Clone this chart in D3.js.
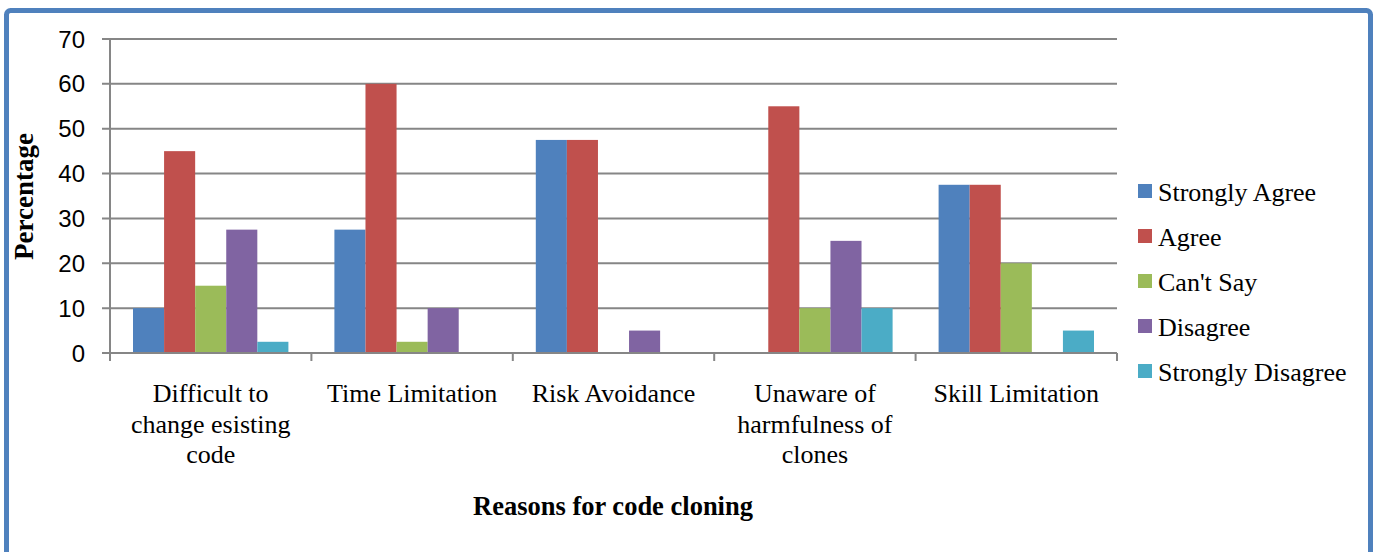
<!DOCTYPE html>
<html>
<head>
<meta charset="utf-8">
<script src="https://cdn.jsdelivr.net/npm/d3@7/dist/d3.min.js"></script>
<style>
  html, body { margin: 0; padding: 0; background: #fff; }
  svg { display: block; }
</style>
</head>
<body>
<svg id="chart" width="1376" height="552"></svg>
<script>
// Survey results: reasons for code cloning
const categories = [
  ["Difficult to", "change esisting", "code"],
  ["Time Limitation"],
  ["Risk Avoidance"],
  ["Unaware of", "harmfulness of", "clones"],
  ["Skill Limitation"]
];
const seriesNames = ["Strongly Agree", "Agree", "Can't Say", "Disagree", "Strongly Disagree"];
const seriesColors = ["#4F81BD", "#C0504D", "#9BBB59", "#8064A2", "#4BACC6"];
const stronglyAgree    = [10, 27.5, 47.5, 0, 37.5];
const agree            = [45, 60, 47.5, 55, 37.5];
const cantSay          = [15, 2.5, 0, 10, 20];
const disagree         = [27.5, 10, 5, 25, 0];
const stronglyDisagree = [2.5, 0, 0, 10, 5];
const yTicks = [0, 10, 20, 30, 40, 50, 60, 70];

const series = [stronglyAgree, agree, cantSay, disagree, stronglyDisagree];

const svg = d3.select("#chart");
const plot = { left: 110, right: 1117, top: 39, bottom: 353 };
const gridColor = "#868686";
const serif = "'Liberation Serif', 'Times New Roman', serif";

// outer frame
svg.append("rect")
  .attr("x", 6.5).attr("y", 10.5)
  .attr("width", 1364).attr("height", 545)
  .attr("rx", 4).attr("ry", 4)
  .attr("fill", "#fff")
  .attr("stroke", "#4F81BD")
  .attr("stroke-width", 5);

const x0 = d3.scaleBand()
  .domain(d3.range(categories.length))
  .range([plot.left, plot.right])
  .paddingInner(0).paddingOuter(0);

const x1 = d3.scaleBand()
  .domain(d3.range(series.length))
  .range([0, x0.bandwidth()])
  .paddingOuter(0.74).paddingInner(0);

const y = d3.scaleLinear().domain([0, 70]).range([plot.bottom, plot.top]);

// horizontal gridlines
svg.append("g").selectAll("line")
  .data(yTicks)
  .join("line")
  .attr("x1", plot.left - 8).attr("x2", plot.right)
  .attr("y1", d => y(d)).attr("y2", d => y(d))
  .attr("stroke", gridColor).attr("stroke-width", 2);

// y axis line
svg.append("line")
  .attr("x1", plot.left).attr("x2", plot.left)
  .attr("y1", plot.top).attr("y2", plot.bottom + 8)
  .attr("stroke", gridColor).attr("stroke-width", 2);

// category tick marks
const boundaries = d3.range(categories.length + 1).map(i => plot.left + i * x0.bandwidth());
svg.append("g").selectAll("line")
  .data(boundaries)
  .join("line")
  .attr("x1", d => d).attr("x2", d => d)
  .attr("y1", plot.bottom).attr("y2", plot.bottom + 8)
  .attr("stroke", gridColor).attr("stroke-width", 2);

// y tick labels
svg.append("g").selectAll("text")
  .data(yTicks)
  .join("text")
  .attr("x", 85).attr("y", d => y(d))
  .attr("dy", "0.36em")
  .attr("text-anchor", "end")
  .attr("font-family", "'Liberation Sans', Arial, sans-serif")
  .attr("font-size", 24)
  .attr("fill", "#000")
  .text(d => d);

// bars
const groups = svg.append("g").selectAll("g")
  .data(categories.map((c, i) => i))
  .join("g")
  .attr("transform", i => `translate(${x0(i)},0)`);

groups.selectAll("rect")
  .data(i => series.map((s, k) => ({ k, v: s[i] })))
  .join("rect")
  .attr("x", d => x1(d.k))
  .attr("width", x1.bandwidth())
  .attr("y", d => y(d.v))
  .attr("height", d => y(0) - y(d.v))
  .attr("fill", d => seriesColors[d.k]);

// baseline drawn over bars
svg.append("line")
  .attr("x1", plot.left).attr("x2", plot.right)
  .attr("y1", y(0)).attr("y2", y(0))
  .attr("stroke", gridColor).attr("stroke-width", 2);

// category labels
const catLabels = svg.append("g").selectAll("text")
  .data(categories)
  .join("text")
  .attr("x", (d, i) => x0(i) + x0.bandwidth() / 2)
  .attr("y", 402)
  .attr("text-anchor", "middle")
  .attr("font-family", serif)
  .attr("font-size", 26)
  .attr("fill", "#000");
catLabels.selectAll("tspan")
  .data(d => d)
  .join("tspan")
  .attr("x", function () { return this.parentNode.getAttribute("x"); })
  .attr("dy", (d, j) => j === 0 ? 0 : 30.5)
  .text(d => d);

// axis titles
svg.append("text")
  .attr("x", 613).attr("y", 515)
  .attr("text-anchor", "middle")
  .attr("font-family", serif)
  .attr("font-weight", "bold")
  .attr("font-size", 26.5)
  .text("Reasons for code cloning");

svg.append("text")
  .attr("transform", "translate(33,196.5) rotate(-90)")
  .attr("text-anchor", "middle")
  .attr("font-family", serif)
  .attr("font-weight", "bold")
  .attr("font-size", 27)
  .text("Percentage");

// legend
const legend = svg.append("g").selectAll("g")
  .data(seriesNames)
  .join("g")
  .attr("transform", (d, i) => `translate(1138,${191 + i * 45})`);
legend.append("rect")
  .attr("x", 0).attr("y", -7)
  .attr("width", 14).attr("height", 14)
  .attr("fill", (d, i) => seriesColors[i]);
legend.append("text")
  .attr("x", 20).attr("y", 9.5)
  .attr("font-family", serif)
  .attr("font-size", 26)
  .text(d => d);
</script>
</body>
</html>
